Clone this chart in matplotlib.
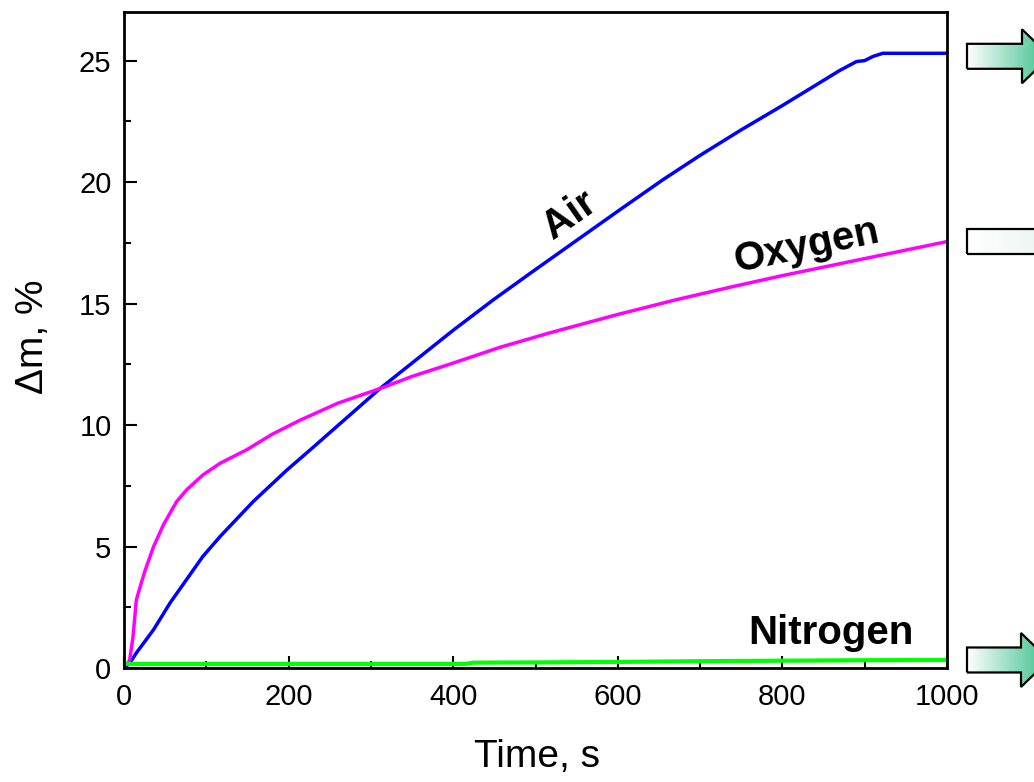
import numpy as np
import matplotlib
matplotlib.use("Agg")
import matplotlib.pyplot as plt
from matplotlib.patches import Polygon
from matplotlib.colors import LinearSegmentedColormap
from matplotlib.ticker import MultipleLocator

plt.rcParams['font.family'] = ['Liberation Sans', 'DejaVu Sans']

# Mass gain during oxidation in different atmospheres
time_air = [0, 7, 15, 36, 56, 76, 96, 117, 157, 198, 226, 311, 400, 449, 500,
            600, 655, 700, 750, 800, 870, 890, 900, 910, 922, 950, 1000]
air = [0.0, 0.2, 0.62, 1.58, 2.68, 3.64, 4.6, 5.42, 6.85, 8.15, 8.97, 11.5, 13.9,
       15.16, 16.4, 18.8, 20.1, 21.1, 22.15, 23.15, 24.6, 24.96, 25.0, 25.17,
       25.3, 25.3, 25.3]

time_oxygen = [0, 5, 7, 11, 15, 21, 26, 36, 48, 64, 76, 96, 117, 149, 180, 214,
               260, 311, 350, 400, 457, 518, 600, 670, 740, 800, 900, 1000]
oxygen = [0.15, 0.2, 0.35, 1.3, 2.8, 3.5, 4.05, 5.0, 5.9, 6.85, 7.33, 7.95, 8.43,
          8.98, 9.62, 10.2, 10.9, 11.5, 12.0, 12.55, 13.2, 13.8, 14.55, 15.15,
          15.7, 16.15, 16.85, 17.55]

time_nitrogen = [0, 100, 200, 300, 415, 425, 500, 600, 700, 800, 900, 1000]
nitrogen = [0.17, 0.17, 0.17, 0.17, 0.17, 0.22, 0.23, 0.25, 0.28, 0.30, 0.32, 0.33]

W, H = 1034, 782
fig = plt.figure(figsize=(W / 100, H / 100), dpi=100)
ax = fig.add_axes([124 / W, (H - 668) / H, (947 - 124) / W, (668 - 12) / H])

ax.plot(time_air, air, color='#0000ff', lw=2.5, solid_joinstyle='round')
ax.plot(time_oxygen, oxygen, color='#ff00ff', lw=2.5, solid_joinstyle='round')
ax.plot(time_nitrogen, nitrogen, color='#00ff00', lw=3.0, solid_joinstyle='round')

ax.set_xlim(0, 1000)
ax.set_ylim(0, 27)
ax.xaxis.set_major_locator(MultipleLocator(200))
ax.xaxis.set_minor_locator(MultipleLocator(100))
ax.yaxis.set_major_locator(MultipleLocator(5))
ax.yaxis.set_minor_locator(MultipleLocator(2.5))
ax.tick_params(which='both', direction='in', width=1.5, labelsize=21)
ax.tick_params(which='major', length=9)
ax.tick_params(which='minor', length=5)
ax.tick_params(axis='x', pad=11)
ax.tick_params(axis='y', pad=9)
for sp in ax.spines.values():
    sp.set_linewidth(2)

ax.set_xlabel('Time, s', fontsize=28)
ax.xaxis.set_label_coords(0.502, -0.135)
ax.xaxis.label.set_va('center')
ax.set_ylabel('\u0394m, %', fontsize=28)
ax.yaxis.set_label_coords(-0.111, 0.505)
ax.yaxis.label.set_va('center')

ax.text(542, 18.66, 'Air', fontsize=29, fontweight='bold', rotation=35,
        ha='center', va='center', rotation_mode='anchor')
ax.text(829, 17.35, 'Oxygen', fontsize=29, fontweight='bold', rotation=12,
        ha='center', va='center', rotation_mode='anchor')
ax.text(859, 1.43, 'Nitrogen', fontsize=29, fontweight='bold',
        ha='center', va='center')

# Arrows in the right margin pointing at the final values
ov = fig.add_axes([0, 0, 1, 1], zorder=10)
ov.set_xlim(0, W)
ov.set_ylim(0, H)
ov.axis('off')
ov.patch.set_alpha(0)


def margin_arrow(y_value, end_color, head_start, dy=0.0):
    yc = ax.transData.transform((0, y_value))[1] + dy
    x0, xt = 967, head_start + 28
    bh, hh = 12.5, 27
    pts = [(x0, yc - bh), (head_start, yc - bh), (head_start, yc - hh), (xt, yc),
           (head_start, yc + hh), (head_start, yc + bh), (x0, yc + bh)]
    poly = Polygon(pts, closed=True, facecolor='none', edgecolor='black',
                   lw=1.6, joinstyle='miter', zorder=3)
    ov.add_patch(poly)
    cmap = LinearSegmentedColormap.from_list('fade', ['#ffffff', end_color])
    grad = np.linspace(0, 1, 256).reshape(1, -1)
    im = ov.imshow(grad, cmap=cmap, extent=(x0, xt, yc - hh, yc + hh),
                   aspect='auto', zorder=2, interpolation='bicubic')
    im.set_clip_path(poly)
    ov.set_xlim(0, W)
    ov.set_ylim(0, H)


margin_arrow(air[-1], '#38c08a', 1022, dy=-3)
margin_arrow(oxygen[-1], '#e4f2ec', 1045)
margin_arrow(nitrogen[-1], '#38c08a', 1021)

fig.savefig('out.png', dpi=100)
